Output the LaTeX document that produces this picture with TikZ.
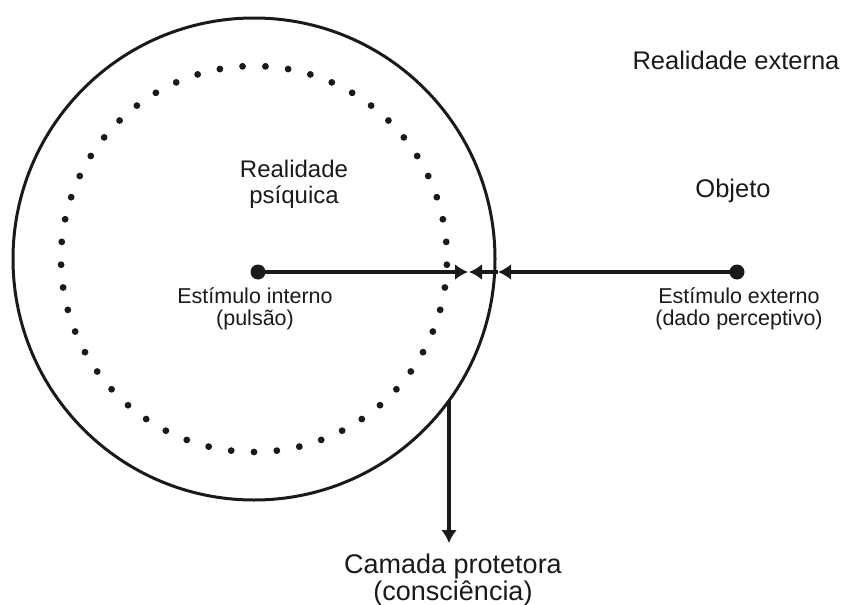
\documentclass[tikz,border=0pt]{standalone}
\usepackage{fontspec}
\setmainfont{Liberation Sans}
\usetikzlibrary{arrows.meta,calc}
\definecolor{ink}{HTML}{1A1A1A}
\tikzset{
  lbl/.style={inner sep=0pt, anchor=base, align=center, text=ink},
  conn/.style={line width=3.8pt, draw=ink},
  head/.style={-{Latex[length=13pt,width=16pt]}},
  dotpt/.style={fill=ink, draw=none},
}
\begin{document}
\begin{tikzpicture}[x=1pt,y=-1pt]
\useasboundingbox (0,0) rectangle (844,605);
\coordinate (C) at (254,259);
% outer circle
\draw[line width=3pt, draw=ink] (C) circle[radius=241];
% dotted inner circle
\foreach \i in {0,...,52}{
  \fill[ink] ($(C)+({90+\i*6.79245}:193)$) circle[radius=3.4];
}
% stimulus dots
\node[circle, fill=ink, inner sep=0pt, minimum size=15pt] (int) at (258,272) {};
\node[circle, fill=ink, inner sep=0pt, minimum size=15pt] (ext) at (737,272) {};
\coordinate (mL) at (468,272);
\coordinate (mR) at (469,272);
\coordinate (edge) at (498,272);
\coordinate (layer) at (449,401);
\coordinate (layerTip) at (449,543);
\draw[conn, head] (int.center) -- (mL);
\draw[conn, head] (ext.center) -- (edge);
\draw[conn, head] (edge) -- (mR);
\draw[line width=3.2pt, draw=ink, head] (layer) -- (layerTip);
% labels (base anchor = last line's baseline)
\node[lbl, font=\fontsize{25.5}{26}\selectfont] (rext) at (736,69) {Realidade externa};
\node[lbl, font=\fontsize{25.5}{26}\selectfont] (obj) at (733,197) {Objeto};
\node[lbl, font=\fontsize{24}{26}\selectfont] (rpsi) at (294,203) {Realidade\\psíquica};
\node[lbl, font=\fontsize{21.5}{22}\selectfont] (lint) at (255,325) {Estímulo interno\\(pulsão)};
\node[lbl, font=\fontsize{21.5}{22}\selectfont] (lext) at (739,325) {Estímulo externo\\(dado perceptivo)};
\node[lbl, font=\fontsize{27}{20}\selectfont] (lcam) at (453,600) {Camada protetora\\(consciência)};
\end{tikzpicture}
\end{document}
